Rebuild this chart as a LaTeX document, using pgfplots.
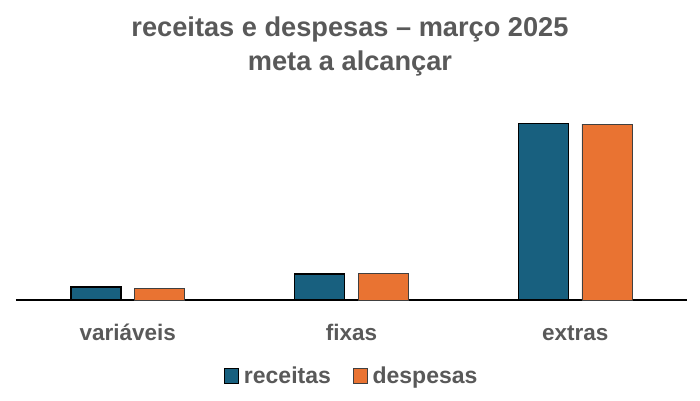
\documentclass[border=0pt]{standalone}
\usepackage{pgfplots}
\pgfplotsset{compat=1.18}
\usepackage{pgfplotstable}
\usepackage{fontspec}
\setmainfont{Liberation Sans}
\definecolor{rec}{HTML}{18607F}
\definecolor{desp}{HTML}{E97332}
\definecolor{txt}{HTML}{595959}
\pgfplotstableread{
x rec desp
0 13 12
1 26 26.3
2 176.5 175.8
}\datatab
\begin{document}
\begin{tikzpicture}[x=1pt,y=1pt]
\useasboundingbox (0,0) rectangle (700,400);
\node[anchor=base,font=\fontsize{27.2}{30}\selectfont\bfseries,text=txt] at (350,363) {receitas e despesas – março 2025};
\node[anchor=base,font=\fontsize{27.2}{30}\selectfont\bfseries,text=txt] at (350,330) {meta a alcançar};
\begin{axis}[
  at={(16pt,100pt)}, anchor=south west,
  scale only axis, width=671pt, height=200pt,
  xmin=-0.5, xmax=2.5, ymin=0, ymax=200,
  axis x line=bottom, hide y axis,
  x axis line style={-, black, line width=1.6pt},
  xtick={0,1,2}, xticklabels={variáveis,fixas,extras},
  major tick length=0pt,
  xticklabel style={anchor=base, yshift=-40pt, font=\fontsize{22.5}{26}\selectfont\bfseries, text=txt},
  ybar, bar width=50pt,
  legend style={at={(0.5,-0.38)}, anchor=center, draw=none, legend columns=2,
    font=\fontsize{23}{26}\selectfont\bfseries, text=txt,
    /tikz/every odd column/.append style={column sep=3pt},
    /tikz/every even column/.append style={column sep=20pt}},
  legend image code/.code={\draw[#1] (0pt,-7.5pt) rectangle (14pt,7.5pt);},
  clip=false,
]
\addplot[fill=rec, draw=black, line width=1.4pt, bar shift=-31.75pt] table[x=x,y=rec]{\datatab};
\addlegendentry{receitas}
\addplot[fill=desp, draw=black!75, line width=0.7pt, bar shift=31.75pt] table[x=x,y=desp]{\datatab};
\addlegendentry{despesas}
\end{axis}
\end{tikzpicture}
\end{document}
